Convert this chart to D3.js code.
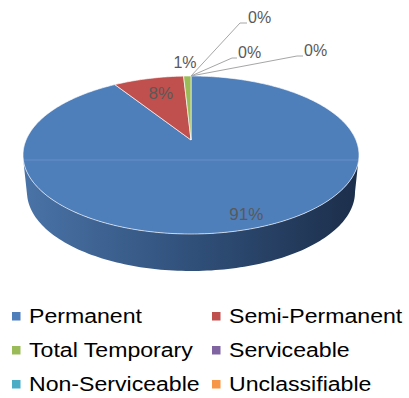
<!DOCTYPE html>
<html>
<head>
<meta charset="utf-8">
<script src="https://cdn.jsdelivr.net/npm/d3@7"></script>
<style>
  html, body { margin: 0; padding: 0; background: #ffffff; }
  svg { display: block; }
  text { font-family: "Liberation Sans", Arial, sans-serif; }
</style>
</head>
<body>
<svg id="chart" width="409" height="398"></svg>
<script>
// Housing structure shares (percent)
const categories = ["Permanent", "Semi-Permanent", "Total Temporary", "Serviceable", "Non-Serviceable", "Unclassifiable"];
const values = [91.0, 8.15, 0.85, 0, 0, 0];
const colors = ["#4f7fbb", "#c0504d", "#9bbb59", "#8064a2", "#4bacc6", "#f79646"];

const W = 409, H = 398;
const svg = d3.select("#chart");

// 3D pie geometry: top face ellipse, extrusion depth, perspective tilt
const cx = 191, cy = 155, rx = 168, ry = 79;
const depth = 37, rxBottom = 164;
const tilt = 0.19; // perspective shift of the disc centre toward the back

// Project a point of the unit disc (u = right, v = back) onto the top face
function project(u, v, ex = rx, ey = ry, oy = cy) {
  const d = 1 + tilt * v;
  const vp = (v + tilt) / d;
  const up = u * Math.sqrt(1 - tilt * tilt) / d;
  return [cx + ex * up, oy - ey * vp];
}
// Rim point for a pie angle (radians, clockwise from top)
function rim(a, ex, ey, oy) { return project(Math.sin(a), Math.cos(a), ex, ey, oy); }
// Projected parametric angle of a rim point
function phi(a) {
  const [x, y] = rim(a);
  return Math.atan2((x - cx) / rx, (cy - y) / ry);
}

const pie = d3.pie().sort(null).value(d => d)(values);
const total = d3.sum(values);

// Side wall gradient
const defs = svg.append("defs");
const grad = defs.append("linearGradient").attr("id", "side").attr("x1", 0).attr("x2", 1).attr("y1", 0).attr("y2", 0);
grad.append("stop").attr("offset", 0).attr("stop-color", "#4a73a7");
grad.append("stop").attr("offset", 0.5).attr("stop-color", "#30507a");
grad.append("stop").attr("offset", 1).attr("stop-color", "#1c2e4a");

// Side walls: front half of each slice (projected angle between 90° and 270°)
pie.forEach((s, i) => {
  if (s.endAngle - s.startAngle <= 0) return;
  const N = 120, pts = [];
  for (let k = 0; k <= N; k++) {
    const a = s.startAngle + (s.endAngle - s.startAngle) * k / N;
    let p = phi(a); if (p < 0) p += 2 * Math.PI;
    if (p >= Math.PI / 2 && p <= 3 * Math.PI / 2) pts.push(p);
  }
  if (pts.length < 2) return;
  const p0 = d3.min(pts), p1 = d3.max(pts);
  const top = [], bot = [];
  for (let k = 0; k <= N; k++) {
    const p = p0 + (p1 - p0) * k / N;
    top.push([cx + rx * Math.sin(p), cy - ry * Math.cos(p)]);
    bot.push([cx + rxBottom * Math.sin(p), cy + depth - ry * Math.cos(p)]);
  }
  const path = d3.path();
  top.forEach((q, k) => k ? path.lineTo(q[0], q[1]) : path.moveTo(q[0], q[1]));
  bot.reverse().forEach(q => path.lineTo(q[0], q[1]));
  path.closePath();
  svg.append("path").attr("d", path.toString())
    .attr("fill", i === 0 ? "url(#side)" : d3.color(colors[i]).darker(1.2));
});

// Top faces
const apex = project(0, 0);
pie.forEach((s, i) => {
  if (s.endAngle - s.startAngle <= 0) return;
  const N = Math.max(4, Math.ceil((s.endAngle - s.startAngle) * 60));
  const path = d3.path();
  path.moveTo(apex[0], apex[1]);
  for (let k = 0; k <= N; k++) {
    const q = rim(s.startAngle + (s.endAngle - s.startAngle) * k / N);
    path.lineTo(q[0], q[1]);
  }
  path.closePath();
  svg.append("path").attr("d", path.toString())
    .attr("fill", colors[i])
    .attr("stroke", "#ffffff").attr("stroke-width", 0.8).attr("stroke-opacity", 0.8);
});

// Faint horizontal sheen across the widest part of the top face
svg.append("line").attr("x1", cx - rx + 1).attr("x2", cx + rx - 1)
  .attr("y1", cy + 5).attr("y2", cy + 5)
  .attr("stroke", "#7fa3d2").attr("stroke-width", 0.8).attr("stroke-opacity", 0.6);

// Data labels
const fmt = v => Math.round(v / total * 100) + "%";
const labelColor = "#595959";
// Inside labels: radial position and small nudge
const inside = { 0: { r: 0.85, dx: 9, dy: 0 }, 1: { r: 0.7, dx: 1, dy: -2 } };
// Outside labels for the thin slices: text position, leader elbow and end
const outside = {
  2: { tx: 185, ty: 68 },
  3: { tx: 238, ty: 58, ex: 232, ey: 58, end: 237 },
  4: { tx: 248, ty: 23, ex: 240, ey: 23, end: 247 },
  5: { tx: 304, ty: 56, ex: 297, ey: 56, end: 303 }
};
pie.forEach((s, i) => {
  const mid = (s.startAngle + s.endAngle) / 2;
  if (inside[i] !== undefined) {
    const o = inside[i];
    const [x, y] = project(o.r * Math.sin(mid), o.r * Math.cos(mid));
    svg.append("text").attr("x", x + o.dx).attr("y", y + 6 + o.dy)
      .attr("text-anchor", "middle").attr("font-size", 17)
      .attr("fill", labelColor).text(fmt(s.data));
  } else {
    const o = outside[i];
    if (o.ex !== undefined) {
      const p = rim(mid);
      svg.append("polyline")
        .attr("points", [[p[0], p[1]], [o.ex, o.ey], [o.end, o.ey]].map(q => q.join(",")).join(" "))
        .attr("fill", "none").attr("stroke", "#a6a6a6").attr("stroke-width", 1);
      svg.append("text").attr("x", o.tx).attr("y", o.ty)
        .attr("font-size", 16).attr("fill", labelColor).text(fmt(s.data));
    } else {
      svg.append("text").attr("x", o.tx).attr("y", o.ty)
        .attr("text-anchor", "middle").attr("font-size", 16)
        .attr("fill", labelColor).text(fmt(s.data));
    }
  }
});

// Legend: two columns, three rows
const legend = svg.append("g");
categories.forEach((c, i) => {
  const col = i % 2, row = Math.floor(i / 2);
  const x = col ? 212 : 12, y = 323 + row * 34;
  legend.append("rect").attr("x", x).attr("y", y - 11).attr("width", 8.5).attr("height", 8.5)
    .attr("fill", colors[i]);
  legend.append("text")
    .attr("transform", `translate(${x + 17},${y}) scale(1.1,1)`)
    .attr("font-size", 21).attr("fill", "#000000").text(c);
});
</script>
</body>
</html>
